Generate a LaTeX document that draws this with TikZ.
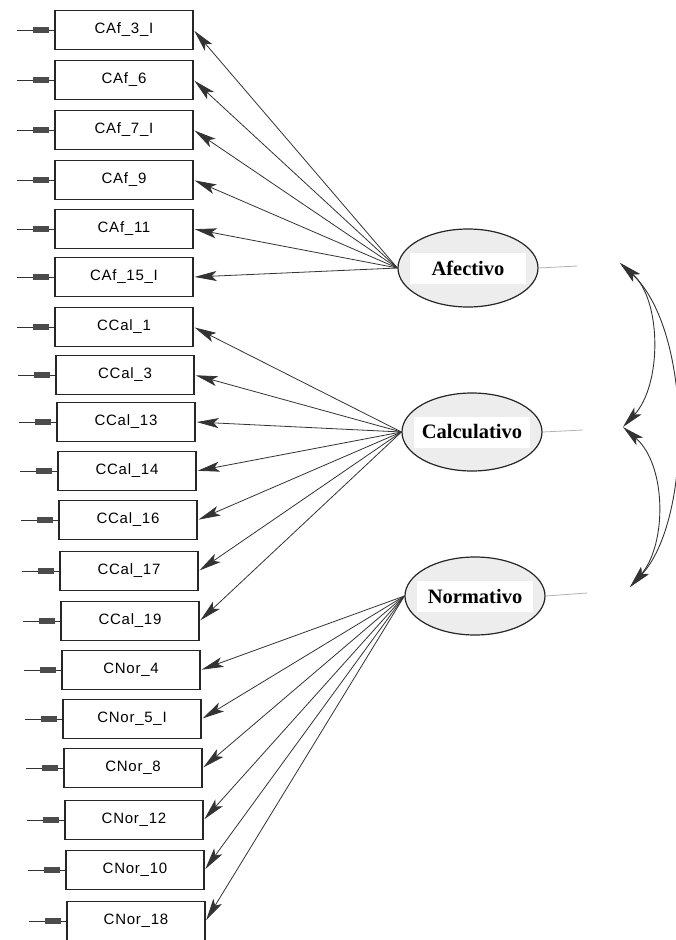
\documentclass[tikz,border=0pt]{standalone}
\usepackage{fontspec}
\setmainfont{Liberation Serif}
\setsansfont{Liberation Sans}
\usetikzlibrary{shapes.geometric,arrows.meta}
\tikzset{
  semtip/.tip={Stealth[length=22pt,width=10pt,inset=5pt]},
  obs/.style={draw=black!85, line width=1.3pt, fill=white, minimum width=138pt, minimum height=39pt, inner sep=0pt,
    font=\sffamily\fontsize{15}{16}\selectfont\addfontfeature{LetterSpace=5}},
  lat/.style={ellipse, draw=black!85, line width=1.2pt, fill=gray!14, minimum width=140pt, minimum height=78pt, inner sep=0pt},
  latlab/.style={fill=white, minimum width=116pt, minimum height=31pt, inner sep=0pt, font=\bfseries\fontsize{20.5}{22}\selectfont},
  load/.style={draw=black!80, line width=0.8pt, -{semtip}, shorten >=1pt},
  err/.style={draw=black!80, line width=0.9pt},
  plug/.style={fill=black!70, draw=none},
  resid/.style={draw=gray!60, line width=0.8pt},
  cov/.style={draw=black!80, line width=0.9pt, {semtip}-{semtip}}
}
\begin{document}
\begin{tikzpicture}[x=1pt,y=-1pt]
\useasboundingbox[fill=white] (0,0) rectangle (676,940);
% observed variables
\foreach \i/\t/\y in {0/CAf\_3\_I/30, 1/CAf\_6/80, 2/CAf\_7\_I/130, 3/CAf\_9/180, 4/CAf\_11/229, 5/CAf\_15\_I/277,
  6/CCal\_1/327, 7/CCal\_3/375, 8/CCal\_13/422, 9/CCal\_14/471, 10/CCal\_16/520, 11/CCal\_17/571, 12/CCal\_19/621,
  13/CNor\_4/670, 14/CNor\_5\_I/719, 15/CNor\_8/768, 16/CNor\_12/820, 17/CNor\_10/870, 18/CNor\_18/921}{
  \pgfmathsetmacro{\lx}{55+max(0,\i-6)}
  \node[obs] (o\i) at (\lx+69,\y) {\t};
  \coordinate (e\i) at (\lx-38,\y);
  \draw[err] (e\i) -- (o\i.west);
  \fill[plug] (\lx-22,\y-2.8) rectangle (\lx-6,\y+2.8);
}
% latent variables
\node[lat] (A) at (468,268) {};
\node[latlab] (Al) at (A.center) {Afectivo};
\node[lat] (C) at (472,432) {};
\node[latlab] (Cl) at (C.center) {Calculativo};
\node[lat] (N) at (475,596) {};
\node[latlab] (Nl) at (N.center) {Normativo};
% loadings
\foreach \i in {0,...,5}{\draw[load] (A.west) -- (o\i.east);}
\foreach \i in {6,...,12}{\draw[load] (C.west) -- (o\i.east);}
\foreach \i in {13,...,18}{\draw[load] (N.west) -- (o\i.east);}
% residual stubs
\coordinate (rA) at (577,266);
\coordinate (rC) at (583,430);
\coordinate (rN) at (587,593);
\draw[resid] (A.east) -- (rA);
\draw[resid] (C.east) -- (rC);
\draw[resid] (N.east) -- (rN);
% covariances
\coordinate (cA) at (620,263);
\coordinate (cC) at (623,427);
\coordinate (cN) at (630,587);
\draw[cov] (cA) .. controls (662,300) and (662,385) .. (cC);
\draw[cov] (cC) .. controls (667,465) and (667,545) .. (cN);
\draw[cov] (cA) .. controls (693,330) and (693,520) .. (cN);
\end{tikzpicture}
\end{document}
